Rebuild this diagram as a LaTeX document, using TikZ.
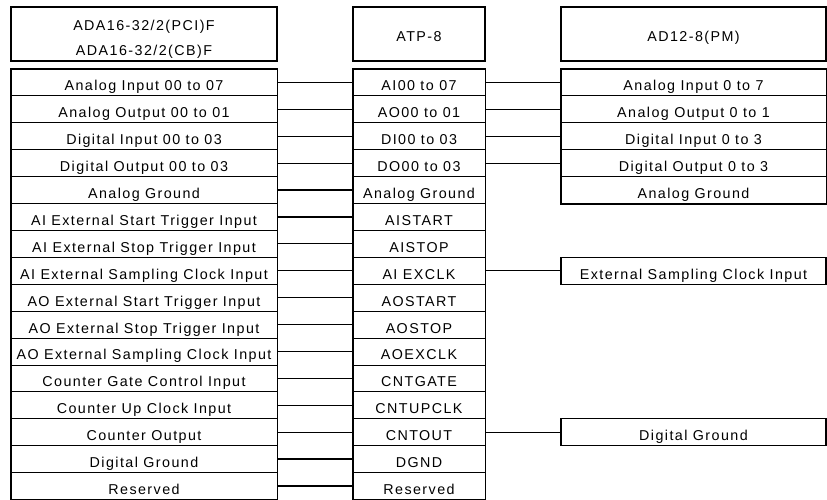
\documentclass[tikz,border=0pt]{standalone}
\usepackage{fontspec}
\newfontfamily\pinfont{Liberation Sans}[LetterSpace=10]
\usetikzlibrary{positioning}
\tikzset{
  cell/.style={draw,line width=0.8pt,inner sep=0pt,minimum height=26.9pt,
               text height=17pt,text depth=0pt,
               font=\pinfont\fontsize{14.3}{16}\selectfont},
  lcell/.style={cell,minimum width=266pt},
  mcell/.style={cell,minimum width=132pt},
  rcell/.style={cell,minimum width=265pt},
  frame/.style={draw,line width=1.3pt},
  header/.style={frame,inner sep=0pt,minimum height=54pt,
                 text height=15pt,text depth=0pt,
                 font=\pinfont\fontsize{14.3}{25}\selectfont},
  wire/.style={line width=1.2pt},
}

\begin{document}
\begin{tikzpicture}[x=1pt,y=-1pt]
  \useasboundingbox (0,0) rectangle (827,500);

  % board side
  \foreach \txt [count=\i] in {Analog Input 00 to 07,Analog Output 00 to 01,
      Digital Input 00 to 03,Digital Output 00 to 03,Analog Ground,
      AI External Start Trigger Input,AI External Stop Trigger Input,
      AI External Sampling Clock Input,AO External Start Trigger Input,
      AO External Stop Trigger Input,AO External Sampling Clock Input,
      Counter Gate Control Input,Counter Up Clock Input,Counter Output,
      Digital Ground,Reserved}
    \node[lcell] (L\i) at (144,{55.55+26.9*\i}) {\txt};

  % terminal panel
  \foreach \txt [count=\i] in {AI00 to 07,AO00 to 01,DI00 to 03,DO00 to 03,
      Analog Ground,AISTART,AISTOP,AI EXCLK,AOSTART,AOSTOP,AOEXCLK,
      CNTGATE,CNTUPCLK,CNTOUT,DGND,Reserved}
    \node[mcell] (M\i) at (419,{55.55+26.9*\i}) {\txt};

  % old board
  \foreach \txt [count=\i] in {Analog Input 0 to 7,Analog Output 0 to 1,
      Digital Input 0 to 3,Digital Output 0 to 3,Analog Ground}
    \node[rcell] (R\i) at (693.5,{55.55+26.9*\i}) {\txt};
  \node[rcell,frame] (Rclk) at (693.5,{55.55+26.9*8}) {External Sampling Clock Input};
  \node[rcell,frame] (Rgnd) at (693.5,{55.55+26.9*14}) {Digital Ground};

  \draw[frame] (L1.north west) rectangle (L16.south east);
  \draw[frame] (M1.north west) rectangle (M16.south east);
  \draw[frame] (R1.north west) rectangle (R5.south east);

  \node[header,minimum width=266pt,above=7pt of L1] (hdrL) {};
  \node[align=center,font=\pinfont\fontsize{14.3}{25}\selectfont]
    (hdrLtxt) at ([yshift=-5pt]hdrL.center) {ADA16-32/2(PCI)F\\ADA16-32/2(CB)F};
  \node[header,minimum width=132pt,above=7pt of M1] (hdrM) {ATP-8};
  \node[header,minimum width=265pt,above=7pt of R1] (hdrR) {AD12-8(PM)};

  \foreach \i in {1,...,16}
    \draw[wire] (L\i.east) -- (M\i.west);
  \foreach \i in {1,...,4}
    \draw[wire] (M\i.east) -- (R\i.west);
  \draw[wire] (M8.east) -- (Rclk.west);
  \draw[wire] (M14.east) -- (Rgnd.west);
\end{tikzpicture}
\end{document}
